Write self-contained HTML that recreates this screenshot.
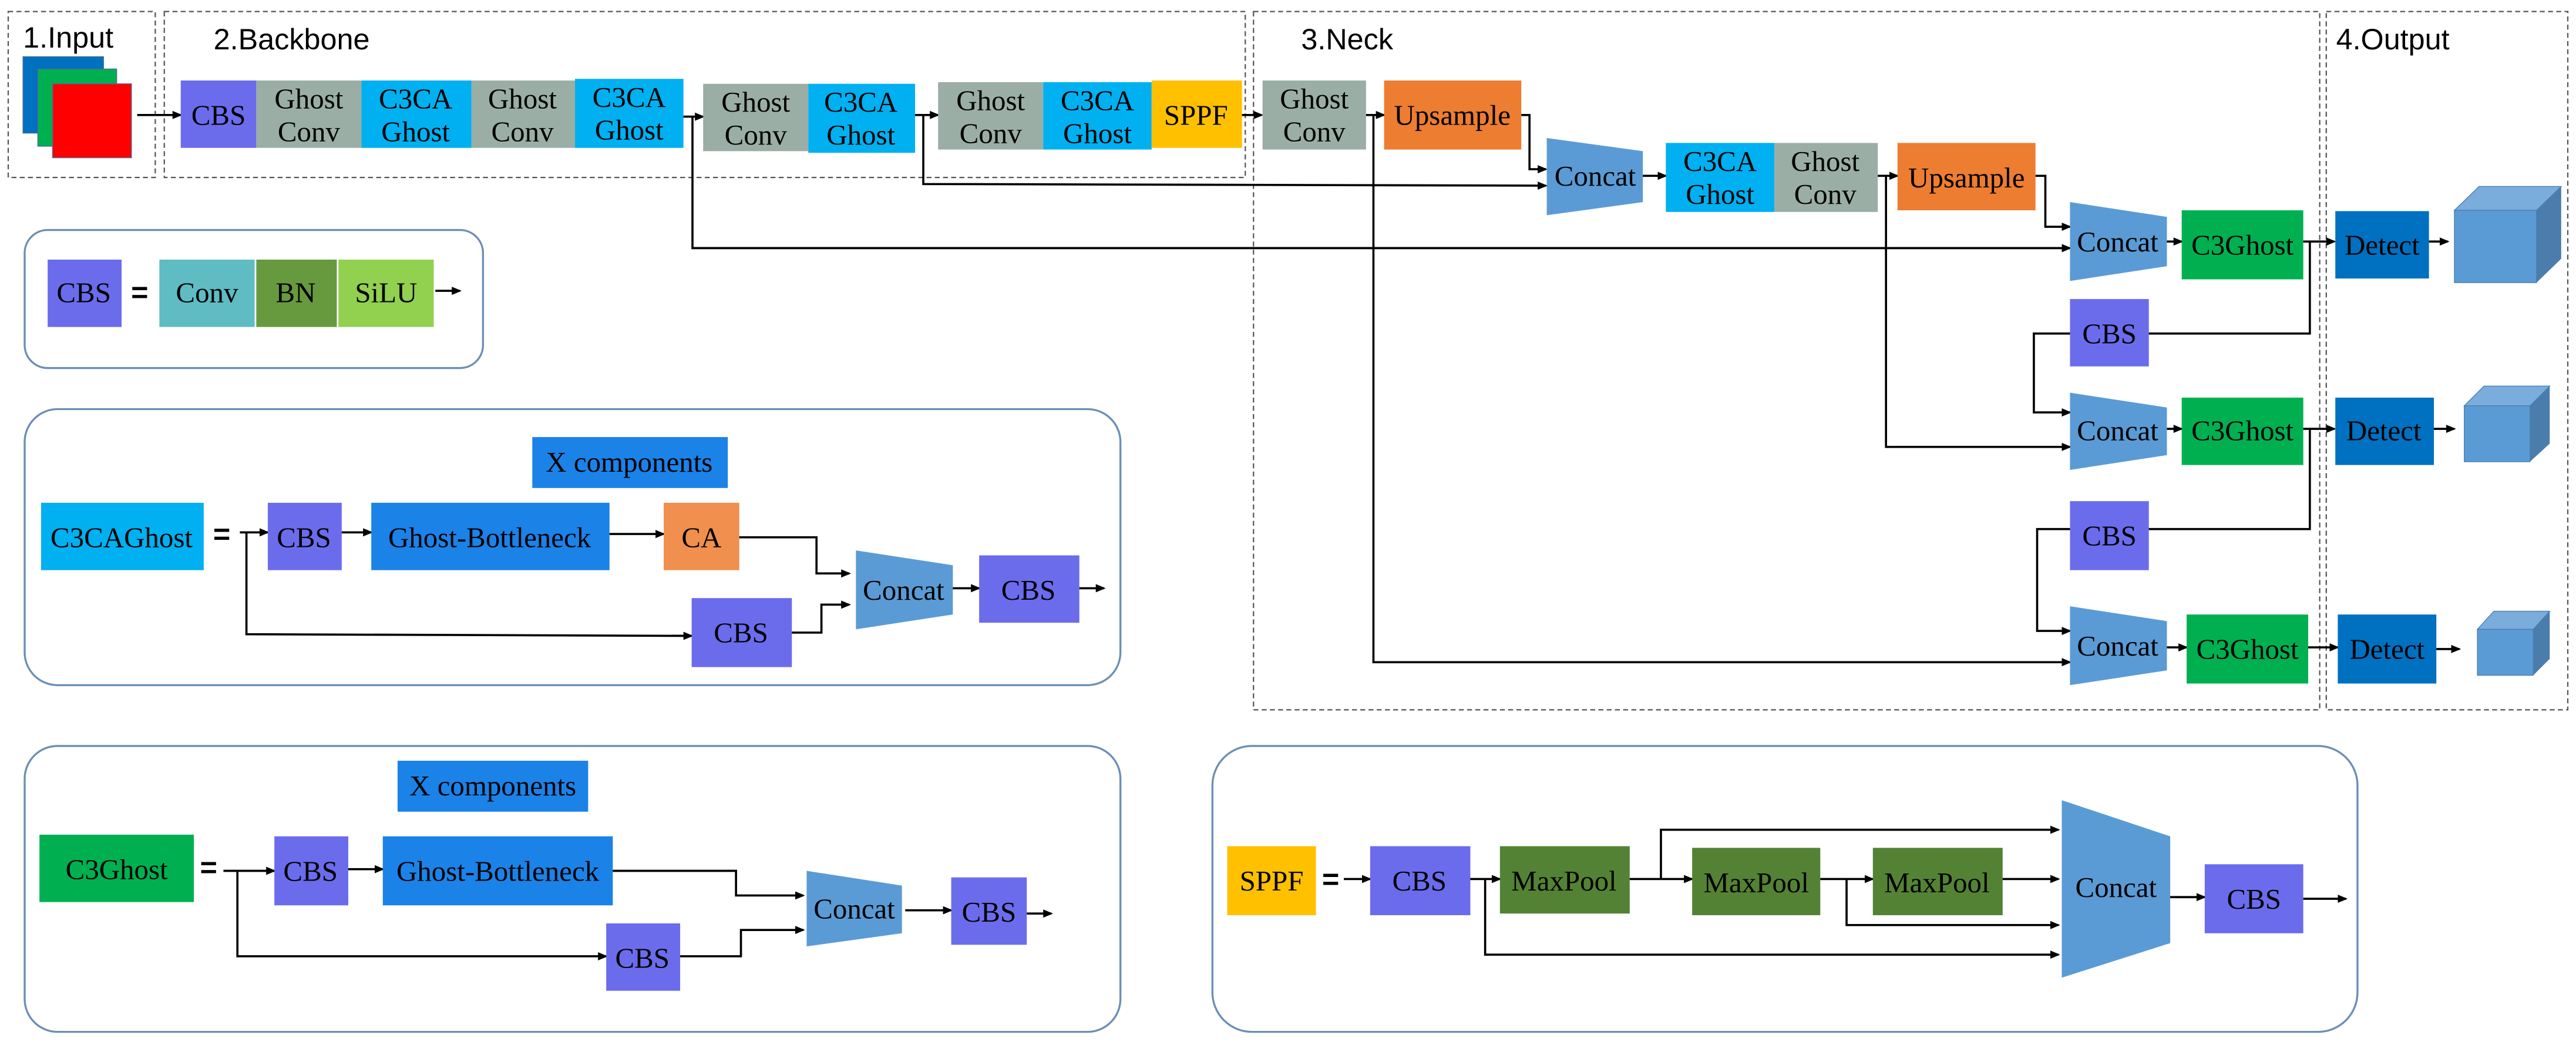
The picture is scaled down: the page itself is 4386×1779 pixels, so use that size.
<!DOCTYPE html>
<html><head><meta charset="utf-8"><style>
html,body{margin:0;padding:0;background:#fff;}
svg{display:block;}
svg text{font-family:"Liberation Serif","Times New Roman",serif;}
.t{font-family:"Liberation Serif","Times New Roman",serif;font-size:17.5px;fill:#000;text-anchor:middle;}
.h{font-family:"Liberation Sans",sans-serif !important;font-size:18px;fill:#000;}
.eq{font-family:"Liberation Sans",sans-serif !important;font-weight:bold;font-size:18px;}
.ln{fill:none;stroke:#000;stroke-width:1.3;}
.ds{fill:none;stroke:#555;stroke-width:0.8;stroke-dasharray:3,2;}
.rb{fill:none;stroke:#6c8eb4;stroke-width:1.2;}
</style></head><body>
<svg width="4386" height="1779" viewBox="0 0 1568 636" xmlns="http://www.w3.org/2000/svg" font-family="Liberation Serif, serif">
<defs><marker id="a" markerWidth="6" markerHeight="6" refX="5" refY="3" orient="auto" markerUnits="userSpaceOnUse"><path d="M0,0.5 L6,3 L0,5.5 z" fill="#000"/></marker></defs>

<rect class="ds" x="5" y="7" width="89.5" height="101"/>
<rect class="ds" x="100" y="7" width="658" height="101"/>
<rect class="ds" x="763" y="7" width="649" height="425"/>
<rect class="ds" x="1416" y="7" width="147" height="425"/>
<text class="h" x="14" y="29" font-family="Liberation Sans, sans-serif">1.Input</text>
<text class="h" x="130" y="30" font-family="Liberation Sans, sans-serif">2.Backbone</text>
<text class="h" x="792" y="30" font-family="Liberation Sans, sans-serif">3.Neck</text>
<text class="h" x="1422" y="30" font-family="Liberation Sans, sans-serif">4.Output</text>

<rect x="14" y="34.5" width="49" height="46.5" fill="#0070c0" stroke="#4a6a9a" stroke-width="0.5"/>
<rect x="23" y="42" width="48" height="47" fill="#00b050" stroke="#4a6a9a" stroke-width="0.5"/>
<rect x="32" y="51" width="48" height="45" fill="#ff0000" stroke="#4a6a9a" stroke-width="0.5"/>
<line class="ln" x1="83.5" y1="70" x2="110" y2="70" marker-end="url(#a)"/>

<rect x="110" y="49" width="46" height="41" fill="#6b6cec"/><text class="t" x="133" y="76">CBS</text>
<rect x="156" y="49" width="64" height="41" fill="#9aaea5"/><text class="t" x="188" y="66">Ghost</text><text class="t" x="188" y="86">Conv</text>
<rect x="220" y="49" width="67" height="41" fill="#00b0f0"/><text class="t" x="253" y="66">C3CA</text><text class="t" x="253" y="86">Ghost</text>
<rect x="287" y="49" width="63" height="41" fill="#9aaea5"/><text class="t" x="318" y="66">Ghost</text><text class="t" x="318" y="86">Conv</text>
<rect x="350" y="48" width="66" height="42" fill="#00b0f0"/><text class="t" x="383" y="65">C3CA</text><text class="t" x="383" y="85">Ghost</text>
<line class="ln" x1="416" y1="71" x2="428" y2="71" marker-end="url(#a)"/>
<rect x="428" y="51" width="64" height="41" fill="#9aaea5"/><text class="t" x="460" y="68">Ghost</text><text class="t" x="460" y="88">Conv</text>
<rect x="492" y="51" width="65" height="42" fill="#00b0f0"/><text class="t" x="524" y="68">C3CA</text><text class="t" x="524" y="88">Ghost</text>
<line class="ln" x1="557" y1="70" x2="571" y2="70" marker-end="url(#a)"/>
<rect x="571" y="50" width="64" height="41" fill="#9aaea5"/><text class="t" x="603" y="67">Ghost</text><text class="t" x="603" y="87">Conv</text>
<rect x="635" y="50" width="66" height="41" fill="#00b0f0"/><text class="t" x="668" y="67">C3CA</text><text class="t" x="668" y="87">Ghost</text>
<rect x="701" y="49" width="55" height="41" fill="#ffc000"/><text class="t" x="728" y="76">SPPF</text>
<line class="ln" x1="756" y1="70" x2="768" y2="70" marker-end="url(#a)"/>

<rect x="768.5" y="49" width="63" height="42" fill="#9aaea5"/><text class="t" x="800" y="66">Ghost</text><text class="t" x="800" y="86">Conv</text>
<line class="ln" x1="831.5" y1="70" x2="842.5" y2="70" marker-end="url(#a)"/>
<rect x="842.5" y="49" width="83.5" height="42" fill="#ed7d31"/><text class="t" x="884" y="76">Upsample</text>
<polyline class="ln" points="926,70 931,70 931,103 941,103" marker-end="url(#a)"/>
<polygon points="941.5,84 1000,92 1000,123 941.5,131" fill="#5b9bd5"/><text class="t" x="971" y="113">Concat</text>
<polyline class="ln" points="421.5,71 421.5,151 1260,151" marker-end="url(#a)"/>
<polyline class="ln" points="562,70 562,112 941,113" marker-end="url(#a)"/>
<line class="ln" x1="1000" y1="107" x2="1014" y2="107" marker-end="url(#a)"/>
<rect x="1014" y="87" width="66" height="42" fill="#00b0f0"/><text class="t" x="1047" y="104">C3CA</text><text class="t" x="1047" y="124">Ghost</text>
<rect x="1080" y="87" width="63" height="42" fill="#9aaea5"/><text class="t" x="1111" y="104">Ghost</text><text class="t" x="1111" y="124">Conv</text>
<line class="ln" x1="1143" y1="107" x2="1155" y2="107" marker-end="url(#a)"/>
<rect x="1155" y="87" width="84" height="41" fill="#ed7d31"/><text class="t" x="1197" y="114">Upsample</text>
<polyline class="ln" points="1239,107 1245,107 1245,138 1260,138" marker-end="url(#a)"/>
<polyline class="ln" points="1148,107 1148,272 1260,272" marker-end="url(#a)"/>
<polyline class="ln" points="836,70 836,403 1260,403" marker-end="url(#a)"/>

<polygon points="1260,123 1319,132 1319,162 1260,171" fill="#5b9bd5"/><text class="t" x="1289" y="153">Concat</text>
<line class="ln" x1="1319" y1="147" x2="1328" y2="147" marker-end="url(#a)"/>
<rect x="1328" y="128" width="74" height="42" fill="#00b050"/><text class="t" x="1365" y="155">C3Ghost</text>
<line class="ln" x1="1402" y1="147" x2="1421" y2="147" marker-end="url(#a)"/>

<rect x="1260" y="182" width="48" height="41" fill="#6b6cec"/><text class="t" x="1284" y="209">CBS</text>
<polyline class="ln" points="1406,147 1406,203 1308,203"/>
<polyline class="ln" points="1260,203 1238,203 1238,251 1260,251" marker-end="url(#a)"/>

<polygon points="1260,239 1319,248 1319,277 1260,286" fill="#5b9bd5"/><text class="t" x="1289" y="268">Concat</text>
<line class="ln" x1="1319" y1="261" x2="1328" y2="261" marker-end="url(#a)"/>
<rect x="1328" y="242" width="74" height="41" fill="#00b050"/><text class="t" x="1365" y="268">C3Ghost</text>
<line class="ln" x1="1402" y1="261" x2="1421" y2="261" marker-end="url(#a)"/>

<rect x="1260" y="305" width="48" height="42" fill="#6b6cec"/><text class="t" x="1284" y="332">CBS</text>
<polyline class="ln" points="1406,261 1406,322 1308,322"/>
<polyline class="ln" points="1260,322 1240,322 1240,384 1260,384" marker-end="url(#a)"/>

<polygon points="1260,369 1319,378 1319,408 1260,417" fill="#5b9bd5"/><text class="t" x="1289" y="399">Concat</text>
<line class="ln" x1="1319" y1="394" x2="1331" y2="394" marker-end="url(#a)"/>
<rect x="1331" y="374" width="74" height="42" fill="#00b050"/><text class="t" x="1368" y="401">C3Ghost</text>
<line class="ln" x1="1405" y1="394" x2="1423" y2="394" marker-end="url(#a)"/>

<rect x="1421.5" y="128.5" width="57" height="41" fill="#0070c0"/><text class="t" x="1450" y="155">Detect</text>
<line class="ln" x1="1478.5" y1="147" x2="1490" y2="147" marker-end="url(#a)"/>
<polygon points="1494,128 1509,113.5 1559,113.5 1544,128" fill="#7aaddc" stroke="#4a7fb0" stroke-width="0.5"/>
<polygon points="1544,128 1559,113.5 1559,157.5 1544,172" fill="#4a7dab"/>
<rect x="1494" y="128" width="50" height="44" fill="#5b9bd5" stroke="#4a7fb0" stroke-width="0.5"/>

<rect x="1421.5" y="242" width="60" height="41" fill="#0070c0"/><text class="t" x="1451" y="268">Detect</text>
<line class="ln" x1="1481.5" y1="261" x2="1494" y2="261" marker-end="url(#a)"/>
<polygon points="1500,247 1512,235 1552,235 1540,247" fill="#7aaddc" stroke="#4a7fb0" stroke-width="0.5"/>
<polygon points="1540,247 1552,235 1552,270 1540,281" fill="#4a7dab"/>
<rect x="1500" y="247" width="40" height="34" fill="#5b9bd5" stroke="#4a7fb0" stroke-width="0.5"/>

<rect x="1423" y="374" width="60" height="42" fill="#0070c0"/><text class="t" x="1453" y="401">Detect</text>
<line class="ln" x1="1483" y1="395" x2="1497" y2="395" marker-end="url(#a)"/>
<polygon points="1508,383 1518,372 1552,372 1542,383" fill="#7aaddc" stroke="#4a7fb0" stroke-width="0.5"/>
<polygon points="1542,383 1552,372 1552,401 1542,411" fill="#4a7dab"/>
<rect x="1508" y="383" width="34" height="28" fill="#5b9bd5" stroke="#4a7fb0" stroke-width="0.5"/>

<rect class="rb" x="15" y="140" width="279" height="84" rx="14"/>
<rect x="29" y="158" width="45" height="41" fill="#6b6cec"/><text class="t" x="51" y="184">CBS</text>
<text class="t eq" x="85" y="184" font-family="Liberation Sans, sans-serif">=</text>
<rect x="97" y="158" width="58" height="41" fill="#5fbcc3"/><text class="t" x="126" y="184">Conv</text>
<rect x="156" y="158" width="49" height="41" fill="#679a3e"/><text class="t" x="180" y="184">BN</text>
<rect x="206" y="158" width="58" height="41" fill="#92d050"/><text class="t" x="235" y="184">SiLU</text>
<line class="ln" x1="265" y1="177" x2="280" y2="177" marker-end="url(#a)"/>

<rect class="rb" x="15" y="249" width="667" height="168" rx="20"/>
<rect x="324" y="266" width="119" height="31" fill="#1b82e8"/><text class="t" x="383" y="287">X components</text>
<rect x="25" y="306" width="99" height="41" fill="#00b0f0"/><text class="t" x="74" y="333">C3CAGhost</text>
<text class="t eq" x="135" y="331" font-family="Liberation Sans, sans-serif">=</text>
<line class="ln" x1="146" y1="324" x2="163" y2="324" marker-end="url(#a)"/>
<rect x="163" y="306" width="45" height="41" fill="#6b6cec"/><text class="t" x="185" y="333">CBS</text>
<line class="ln" x1="208" y1="324" x2="226" y2="324" marker-end="url(#a)"/>
<rect x="226" y="306" width="145" height="41" fill="#1b82e8"/><text class="t" x="298" y="333">Ghost-Bottleneck</text>
<line class="ln" x1="371" y1="325" x2="404" y2="325" marker-end="url(#a)"/>
<rect x="404" y="306" width="46" height="41" fill="#f08f4e"/><text class="t" x="427" y="333">CA</text>
<polyline class="ln" points="450,327 497,327 497,349 517,349" marker-end="url(#a)"/>
<polygon points="521,335 580,344 580,374 521,383" fill="#5b9bd5"/><text class="t" x="550" y="365">Concat</text>
<line class="ln" x1="580" y1="358" x2="596" y2="358" marker-end="url(#a)"/>
<rect x="596" y="338" width="61" height="41" fill="#6b6cec"/><text class="t" x="626" y="365">CBS</text>
<line class="ln" x1="657" y1="358" x2="672" y2="358" marker-end="url(#a)"/>
<polyline class="ln" points="150,324 150,386 421,387" marker-end="url(#a)"/>
<rect x="421" y="364" width="61" height="42" fill="#6b6cec"/><text class="t" x="451" y="391">CBS</text>
<polyline class="ln" points="482,385 500,385 500,368 517,368" marker-end="url(#a)"/>

<rect class="rb" x="15" y="454" width="667" height="174" rx="20"/>
<rect x="242" y="463" width="116" height="31" fill="#1b82e8"/><text class="t" x="300" y="484">X components</text>
<rect x="24" y="508" width="94" height="41" fill="#00b050"/><text class="t" x="71" y="535">C3Ghost</text>
<text class="t eq" x="127" y="534" font-family="Liberation Sans, sans-serif">=</text>
<line class="ln" x1="136" y1="530" x2="167" y2="530" marker-end="url(#a)"/>
<rect x="167" y="509" width="45" height="42" fill="#6b6cec"/><text class="t" x="189" y="536">CBS</text>
<line class="ln" x1="212" y1="529" x2="233" y2="529" marker-end="url(#a)"/>
<rect x="233" y="509" width="140" height="42" fill="#1b82e8"/><text class="t" x="303" y="536">Ghost-Bottleneck</text>
<polyline class="ln" points="373,530 448,530 448,545 489,545" marker-end="url(#a)"/>
<polygon points="491,530 549,539 549,568 491,576" fill="#5b9bd5"/><text class="t" x="520" y="559">Concat</text>
<line class="ln" x1="551" y1="554" x2="579" y2="554" marker-end="url(#a)"/>
<rect x="579" y="534" width="46" height="41" fill="#6b6cec"/><text class="t" x="602" y="561">CBS</text>
<line class="ln" x1="625" y1="556" x2="640" y2="556" marker-end="url(#a)"/>
<polyline class="ln" points="144.5,530 144.5,582 369,582" marker-end="url(#a)"/>
<rect x="369" y="562" width="45" height="41" fill="#6b6cec"/><text class="t" x="391" y="589">CBS</text>
<polyline class="ln" points="414,582 451,582 451,566 489,566" marker-end="url(#a)"/>

<rect class="rb" x="738" y="454" width="697" height="174" rx="24"/>
<rect x="747" y="515" width="54" height="42" fill="#ffc000"/><text class="t" x="774" y="542">SPPF</text>
<text class="t eq" x="810" y="541" font-family="Liberation Sans, sans-serif">=</text>
<line class="ln" x1="818" y1="535" x2="834" y2="535" marker-end="url(#a)"/>
<rect x="834" y="515" width="61" height="42" fill="#6b6cec"/><text class="t" x="864" y="542">CBS</text>
<line class="ln" x1="895" y1="535" x2="913" y2="535" marker-end="url(#a)"/>
<rect x="913" y="515" width="79" height="41" fill="#548235"/><text class="t" x="952" y="542">MaxPool</text>
<line class="ln" x1="992" y1="535" x2="1030" y2="535" marker-end="url(#a)"/>
<rect x="1030" y="516" width="78" height="41" fill="#548235"/><text class="t" x="1069" y="543">MaxPool</text>
<line class="ln" x1="1108" y1="535" x2="1140" y2="535" marker-end="url(#a)"/>
<rect x="1140" y="516" width="79" height="41" fill="#548235"/><text class="t" x="1179" y="543">MaxPool</text>
<line class="ln" x1="1219" y1="535" x2="1253" y2="535" marker-end="url(#a)"/>
<polyline class="ln" points="1011,535 1011,505 1253,505" marker-end="url(#a)"/>
<polyline class="ln" points="1124,535 1124,563 1253,563" marker-end="url(#a)"/>
<polyline class="ln" points="904,535 904,581 1253,581" marker-end="url(#a)"/>
<polygon points="1255,487 1321,509 1321,574 1255,595" fill="#5b9bd5"/><text class="t" x="1288" y="546">Concat</text>
<line class="ln" x1="1321" y1="546" x2="1342" y2="546" marker-end="url(#a)"/>
<rect x="1342" y="526" width="60" height="42" fill="#6b6cec"/><text class="t" x="1372" y="553">CBS</text>
<line class="ln" x1="1402" y1="547" x2="1428" y2="547" marker-end="url(#a)"/>
</svg>
</body></html>
